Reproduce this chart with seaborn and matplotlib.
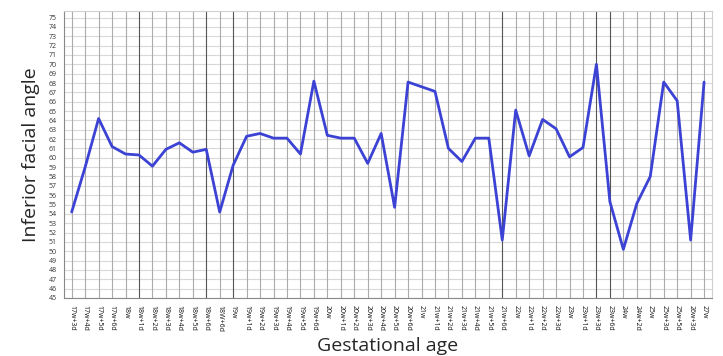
import numpy as np
import pandas as pd
from matplotlib import pyplot as plt
import seaborn as sns

ages = ['17w+3d', '17w+4d', '17w+5d', '17w+6d', '18w', '18w+1d', '18w+2d', '18w+3d',
        '18w+4d', '18w+5d', '18w+6d', '18W+6d', '19w', '19w+1d', '19w+2d', '19w+3d',
        '19w+4d', '19w+5d', '19w+6d', '20w', '20w+1d', '20w+2d', '20w+3d', '20w+4d',
        '20w+5d', '20w+6d', '21w', '21w+1d', '21w+2d', '21w+3d', '21w+4d', '21w+5d',
        '21w+6d', '22w', '22w+1d', '22w+2d', '22w+3d', '23w', '23w+1d', '23w+3d',
        '23w+6d', '24w', '24w+2d', '25w', '25w+3d', '25w+5d', '26w+3d', '27w']
angle = [54.2, 59.0, 64.2, 61.2, 60.4, 60.3, 59.1, 60.9,
         61.6, 60.6, 60.9, 54.2, 59.2, 62.3, 62.6, 62.1,
         62.1, 60.4, 68.2, 62.4, 62.1, 62.1, 59.4, 62.6,
         54.7, 68.1, 67.6, 67.1, 61.0, 59.6, 62.1, 62.1,
         51.2, 65.1, 60.2, 64.1, 63.1, 60.1, 61.1, 70.0,
         55.3, 50.2, 55.1, 58.0, 68.1, 66.1, 51.2, 68.1]

df = pd.DataFrame({'pos': np.arange(len(ages)), 'angle': angle})

sns.set_style('white')
plt.rcParams['font.family'] = ['Open Sans', 'DejaVu Sans']

fig = plt.figure(figsize=(7.23, 3.56), dpi=100)
ax = fig.add_axes([0.088, 0.163, 0.897, 0.806])

sns.lineplot(data=df, x='pos', y='angle', ax=ax, color='#3b42d4', linewidth=2.0, zorder=5)

ax.set_xlim(-0.6, len(ages) - 0.4)
ax.set_ylim(45, 75.7)
ax.set_yticks(np.arange(45, 76))
ax.set_xticks(df.pos)
ax.set_xticklabels(ages, rotation=-90, fontsize=5, color='#111111')
ax.tick_params(axis='y', labelsize=5, colors='#333333', length=3, width=0.6, pad=2)
ax.tick_params(axis='x', length=3, width=0.6, pad=2)

for y in np.arange(45, 76):
    ax.axhline(y, color='#d8d8d8', linewidth=0.8, zorder=1)
dark = [5, 10, 12, 32, 39, 40]
for i in df.pos:
    ax.axvline(i, color='#555555' if i in dark else '#ababab', linewidth=0.8, zorder=2)

for s in ['top', 'right']:
    ax.spines[s].set_color('#d0d0d0')
for s in ['left', 'bottom']:
    ax.spines[s].set_color('#888888')
    ax.spines[s].set_linewidth(0.8)

ax.set_xlabel('Gestational age', fontsize=14, labelpad=4)
ax.set_ylabel('Inferior facial angle', fontsize=14, labelpad=6)

fig.savefig('out.png', dpi=100)
